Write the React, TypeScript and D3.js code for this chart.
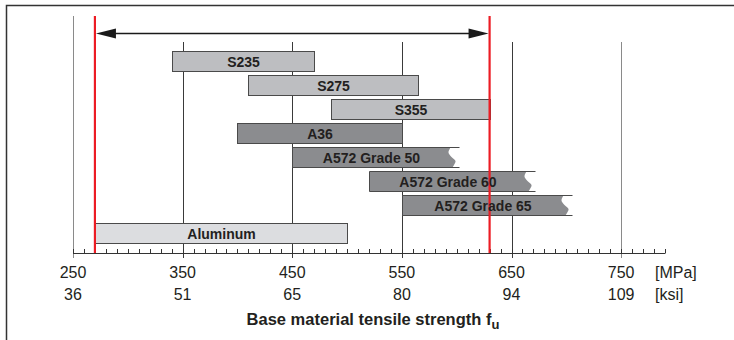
import React from "react";
import * as d3 from "d3";

const categories = ["S235", "S275", "S355", "A36", "A572 Grade 50", "A572 Grade 60", "A572 Grade 65", "Aluminum"];
const minStrength = [340, 410, 485, 400, 450, 520, 550, 270];
const maxStrength = [470, 565, 630, 550, 602, 671, 705, 500];
const materialGroup = ["euro", "euro", "euro", "astm", "astm", "astm", "astm", "alu"];
const openEnded = [false, false, false, false, true, true, true, false];

const mpaTicks = [250, 350, 450, 550, 650, 750];
const ksiLabels = ["36", "51", "65", "80", "94", "109"];
const limits = [270, 630];

const W = 734;
const H = 340;
const FONT = "'Liberation Sans', Arial, Helvetica, sans-serif";

const fillColor: Record<string, string> = { euro: "#bdbec1", astm: "#8b8c8f", alu: "#dcdde0" };

export default function App() {
  const x = d3.scaleLinear().domain([250, 790]).range([73, 665]);
  const y = d3
    .scaleBand<string>()
    .domain(categories)
    .range([49, 241])
    .paddingInner(1 / 6)
    .paddingOuter(1 / 12);
  const bw = y.bandwidth();
  const axisY = 253.5;
  const minorTicks = d3.range(250, 791, 10);

  const wave = d3.line<[number, number]>().curve(d3.curveCatmullRom);

  const geo = categories.map((c, i) => {
    const x0 = Math.round(x(minStrength[i])) + 0.5;
    const x1 = Math.round(x(maxStrength[i])) + 0.5;
    const top = (y(c) as number) + (materialGroup[i] === "alu" ? 4 : 0) + 0.5;
    return { c, i, x0, x1, top, bot: top + bw };
  });

  const shapes = geo.map(({ c, i, x0, x1, top, bot }) => {
    const fill = fillColor[materialGroup[i]];
    if (openEnded[i]) {
      const rel: [number, number][] = [
        [-9, 0],
        [-11, 5],
        [-8, 9.5],
        [-4, 13.5],
        [-5.5, 17.5],
        [-7, bw],
      ];
      const pts = rel.map(([dx, dy]) => [x1 + dx, top + dy] as [number, number]);
      const wd = wave(pts) as string;
      const d = `M${x0},${top} L${pts[0][0]},${top} ` + wd.replace(/^M/, "L") + ` L${x0},${bot} Z`;
      return (
        <g key={c}>
          <path d={d} fill={fill} stroke="none" />
          <path d={`M${x1},${top} H${x0} V${bot} H${x1}`} fill="none" stroke="#4a4a4a" strokeWidth={1} />
        </g>
      );
    }
    return <rect key={c} x={x0} y={top} width={x1 - x0} height={bw} fill={fill} stroke="#4a4a4a" strokeWidth={1} />;
  });

  const labels = geo.map(({ c, i, x0, x1, top }) => {
    const cx = openEnded[i] ? (x0 + x1 - 9) / 2 : (x0 + x1) / 2;
    return (
      <text
        key={c}
        x={cx}
        y={top + bw / 2 + 5}
        textAnchor="middle"
        fontFamily={FONT}
        fontWeight="bold"
        fontSize={14}
        fill="#231f20"
      >
        {c}
      </text>
    );
  });

  const arrowY = 33.5;
  const xl = x(limits[0]) + 1;
  const xr = x(limits[1]) - 1;

  return (
    <svg
      width={W}
      height={H}
      viewBox={`0 0 ${W} ${H}`}
      style={{ position: "absolute", left: 0, top: 0, display: "block", background: "#fff" }}
    >
      <rect x={0} y={0} width={W} height={H} fill="#fff" />
      <path d={`M6.5,${H} V5.5 H${W}`} fill="none" stroke="#333" strokeWidth={1.5} />

      {mpaTicks.map((t, i) => (
        <line
          key={t}
          x1={Math.round(x(t)) + 0.5}
          x2={Math.round(x(t)) + 0.5}
          y1={i === 0 ? 16 : 42}
          y2={258}
          stroke={i === 0 || i === mpaTicks.length - 1 ? "#8a8a8a" : "#3a3a3a"}
          strokeWidth={1}
        />
      ))}

      {shapes}

      <line x1={x(250)} x2={x(790)} y1={axisY} y2={axisY} stroke="#333" strokeWidth={1} />
      {minorTicks.map((t) => (
        <line
          key={t}
          x1={Math.round(x(t)) + 0.5}
          x2={Math.round(x(t)) + 0.5}
          y1={axisY - 4.5}
          y2={axisY}
          stroke="#333"
          strokeWidth={1}
        />
      ))}

      {limits.map((l) => (
        <line key={l} x1={x(l)} x2={x(l)} y1={16} y2={253} stroke="#ec1c24" strokeWidth={2.2} />
      ))}

      {labels}

      <line x1={xl + 18} x2={xr - 18} y1={arrowY} y2={arrowY} stroke="#1a1a1a" strokeWidth={1.5} />
      <path d={`M${xl},${arrowY} L${xl + 20},${arrowY - 5} L${xl + 20},${arrowY + 5} Z`} fill="#1a1a1a" />
      <path d={`M${xr},${arrowY} L${xr - 20},${arrowY - 5} L${xr - 20},${arrowY + 5} Z`} fill="#1a1a1a" />

      {mpaTicks.map((t, i) => (
        <g key={"lab" + t} fontFamily={FONT} fontSize={16} fill="#231f20" textAnchor="middle">
          <text x={x(t)} y={277.5}>
            {t}
          </text>
          <text x={x(t)} y={299.5}>
            {ksiLabels[i]}
          </text>
        </g>
      ))}
      <text x={655} y={277.5} fontFamily={FONT} fontSize={16} fill="#231f20">
        [MPa]
      </text>
      <text x={655} y={299.5} fontFamily={FONT} fontSize={16} fill="#231f20">
        [ksi]
      </text>

      <text x={373} y={325} textAnchor="middle" fontFamily={FONT} fontWeight="bold" fontSize={16.5} fill="#231f20">
        Base material tensile strength f
        <tspan fontSize={13} dy={4}>
          u
        </tspan>
      </text>
    </svg>
  );
}
